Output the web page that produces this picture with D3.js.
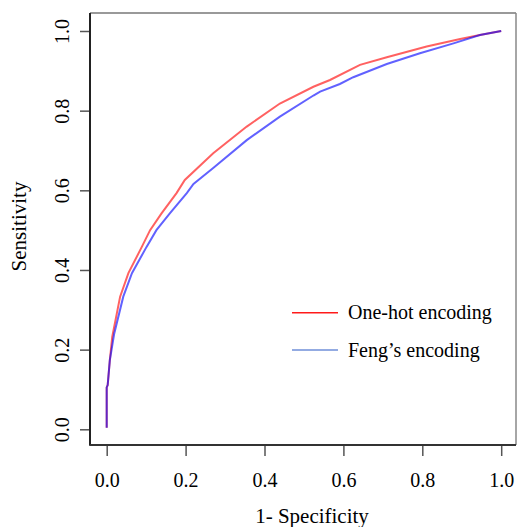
<!DOCTYPE html>
<html>
<head>
<meta charset="utf-8">
<script src="https://cdn.jsdelivr.net/npm/d3@7"></script>
<style>
  html, body { margin: 0; padding: 0; background: #fff; }
  svg { display: block; }
  svg text { font-family: "Liberation Serif", "Times New Roman", serif; }
</style>
</head>
<body>
<svg id="chart" width="517" height="527"></svg>
<script>
// ---- data ----
const seriesNames = ["One-hot encoding", "Feng\u2019s encoding"];
const oneHotFPR = [0, 0, 0.0025, 0.008, 0.014, 0.034, 0.055, 0.089, 0.110, 0.139, 0.177, 0.198, 0.270, 0.355, 0.439, 0.524, 0.566, 0.642, 0.710, 0.811, 0.896, 0.946, 1];
const oneHotTPR = [0.004, 0.105, 0.111, 0.174, 0.232, 0.333, 0.392, 0.458, 0.500, 0.542, 0.593, 0.626, 0.693, 0.760, 0.818, 0.860, 0.877, 0.915, 0.934, 0.961, 0.980, 0.990, 1];
const fengFPR = [0, 0, 0.0025, 0.008, 0.019, 0.042, 0.064, 0.101, 0.126, 0.160, 0.203, 0.220, 0.270, 0.355, 0.439, 0.524, 0.541, 0.591, 0.625, 0.710, 0.794, 0.879, 0.946, 1];
const fengTPR = [0.004, 0.105, 0.111, 0.174, 0.240, 0.333, 0.392, 0.458, 0.500, 0.542, 0.593, 0.616, 0.656, 0.726, 0.785, 0.838, 0.848, 0.867, 0.884, 0.917, 0.944, 0.969, 0.990, 1];
const xTicks = [0, 0.2, 0.4, 0.6, 0.8, 1.0];
const yTicks = [0, 0.2, 0.4, 0.6, 0.8, 1.0];
const xTitle = "1- Specificity";
const yTitle = "Sensitivity";

// ---- layout ----
const serif = '"Liberation Serif", "Times New Roman", serif';
const svg = d3.select("#chart");
const box = { left: 90, right: 516, top: 13, bottom: 445 };
const x = d3.scaleLinear().domain([0, 1]).range([106.7, 501.2]);
const y = d3.scaleLinear().domain([0, 1]).range([429.3, 31]);

// frame
svg.append("line").attr("x1", box.left).attr("x2", box.right).attr("y1", box.top).attr("y2", box.top)
  .attr("stroke", "#777").attr("stroke-width", 1.5);
svg.append("line").attr("x1", box.right).attr("x2", box.right).attr("y1", box.top).attr("y2", box.bottom)
  .attr("stroke", "#888").attr("stroke-width", 1.5);

// axes
const xAxis = svg.append("g").attr("transform", `translate(0,${box.bottom})`)
  .call(d3.axisBottom(x).tickValues(xTicks).tickFormat(d3.format(".1f")).tickSize(11).tickPadding(20));
const yAxis = svg.append("g").attr("transform", `translate(${box.left},0)`)
  .call(d3.axisLeft(y).tickValues(yTicks).tickFormat(d3.format(".1f")).tickSize(10).tickPadding(8));

[xAxis, yAxis].forEach(g => {
  g.attr("font-family", serif).attr("font-size", 20);
  g.select(".domain").remove();
  g.selectAll(".tick line").attr("stroke", "#555").attr("stroke-width", 1.5);
  g.selectAll(".tick text").attr("fill", "#000").attr("font-family", serif).attr("font-size", 20);
});
xAxis.selectAll(".tick text").attr("dy", null).attr("y", 0)
  .attr("transform", "translate(0,42)");
yAxis.selectAll(".tick text")
  .attr("x", null).attr("dy", null).attr("text-anchor", "middle")
  .attr("transform", "translate(-21.5,0) rotate(-90)");

// left/bottom axis lines (dark)
svg.append("line").attr("x1", box.left).attr("x2", box.left).attr("y1", box.top).attr("y2", box.bottom + 0.75)
  .attr("stroke", "#222").attr("stroke-width", 2);
svg.append("line").attr("x1", box.left).attr("x2", box.right).attr("y1", box.bottom).attr("y2", box.bottom)
  .attr("stroke", "#333").attr("stroke-width", 2);

// curves
const line = d3.line().x(d => x(d[0])).y(d => y(d[1]));
const oneHot = oneHotFPR.map((v, i) => [v, oneHotTPR[i]]);
const feng = fengFPR.map((v, i) => [v, fengTPR[i]]);
svg.append("path").datum(oneHot).attr("d", line).attr("fill", "none")
  .attr("stroke", "#ff0000").attr("stroke-opacity", 0.62).attr("stroke-width", 2);
svg.append("path").datum(feng).attr("d", line).attr("fill", "none")
  .attr("stroke", "#0000ff").attr("stroke-opacity", 0.62).attr("stroke-width", 2);

// legend
const legendColors = ["#ff1a1a", "#6f8fd8"];
const legendY = [312.7, 350];
seriesNames.forEach((name, i) => {
  svg.append("line").attr("x1", 292).attr("x2", 338).attr("y1", legendY[i]).attr("y2", legendY[i])
    .attr("stroke", legendColors[i]).attr("stroke-width", 1.6);
  svg.append("text").attr("x", 348).attr("y", legendY[i] + 6.5)
    .attr("font-family", serif).attr("font-size", 20).attr("fill", "#000").text(name);
});

// axis titles
svg.append("text").attr("x", 312).attr("y", 523).attr("text-anchor", "middle")
  .attr("font-family", serif).attr("font-size", 21).attr("fill", "#000").text(xTitle);
svg.append("text").attr("transform", "translate(26,226.5) rotate(-90)").attr("text-anchor", "middle")
  .attr("font-family", serif).attr("font-size", 21).attr("fill", "#000").text(yTitle);
</script>
</body>
</html>
